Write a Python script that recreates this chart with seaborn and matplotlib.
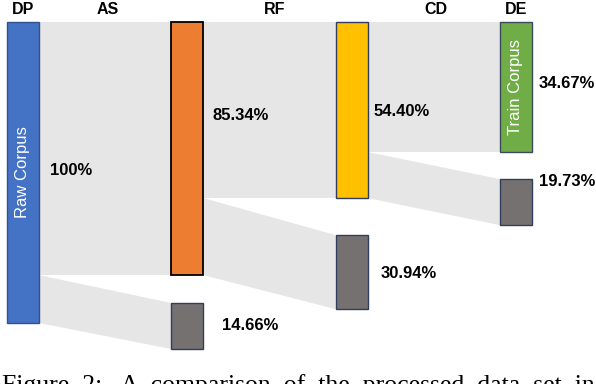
import numpy as np
import pandas as pd
import matplotlib
matplotlib.use("Agg")
import matplotlib.pyplot as plt
import seaborn as sns

# ---------------- data ----------------
stage_labels = ["DP", "AS", "RF", "CD", "DE"]
main_nodes = ["Raw Corpus", "After AS", "After RF", "Train Corpus"]
main_heights = [100.0, 84.1, 58.5, 43.2]          # drawn node heights (% of raw scale)
main_labels = ["100%", "85.34%", "54.40%", "34.67%"]
drop_heights = [15.3, 24.6, 15.3]                 # drawn heights of the removed parts
drop_labels = ["14.66%", "30.94%", "19.73%"]
caption = "Figure  2:   A  comparison  of  the  processed  data  set  in"

# ---------------- styles / layout ----------------
main_colors = ["#4472c4", "#ed7d31", "#ffc000", "#70ad47"]
main_edges = ["#2f528f", "#000000", "#2f3e5c", "#3a4a5c"]
drop_color = "#767171"
drop_edge = "#2f3e5c"
flow_color = "#e6e6e6"
bar_w = 0.195
drop_tops = [93.35, 70.8, 52.2]
main_label_dx = [11, 9, 6, 7]        # px right of node edge
drop_label_dx = [19, 13, 7]
main_label_dy = [-0.8, -11.0, 0.6, -1.3]
drop_label_dy = [-0.3, 0.3, -6.7]
header_cols = [0.0, 0.517, 1.533, 2.513, 3.0]

PX_PER_COL = 164.33
PX_PER_UNIT = 3.01

sns.set_theme(style="white")
plt.rcParams["font.family"] = ["Liberation Sans", "DejaVu Sans"]

fig = plt.figure(figsize=(5.96, 3.84), dpi=100)
ax = fig.add_axes([0, 0, 1, 1])

cols = np.arange(len(main_nodes))
df = pd.DataFrame({"col": cols, "height": main_heights, "node": main_nodes})
sns.barplot(data=df, x="col", y="height", hue="node",
            palette=dict(zip(main_nodes, main_colors)), hue_order=main_nodes,
            native_scale=True, width=bar_w, dodge=False, legend=False,
            saturation=1, linewidth=1.0, ax=ax, zorder=3)
for p in ax.patches:
    c = int(round(p.get_x() + p.get_width() / 2))
    if 0 <= c < len(main_edges):
        p.set_edgecolor(main_edges[c])
        p.set_linewidth(1.3 if c == 1 else 1.0)
        p.set_zorder(3)

drop_cols = cols[1:]
ax.bar(drop_cols, drop_heights, width=bar_w, bottom=drop_tops,
       color=drop_color, edgecolor=drop_edge, linewidth=1.0, zorder=3)

# flows
for i in range(len(main_nodes) - 1):
    x0 = cols[i] + bar_w / 2
    x1 = cols[i + 1] - bar_w / 2
    h_next = main_heights[i + 1]
    ax.fill([x0, x1, x1, x0], [0, 0, h_next, h_next], color=flow_color, lw=0, zorder=1)
    t0, t1 = drop_tops[i], drop_tops[i] + drop_heights[i]
    ax.fill([x0, x1, x1, x0], [h_next, t0, t1, main_heights[i]],
            color=flow_color, lw=0, zorder=1)

# text
ax.text(cols[0], main_heights[0] / 2, main_nodes[0], rotation=90, color="white",
        ha="center", va="center", fontsize=12, zorder=4)
ax.text(cols[3], main_heights[3] / 2, main_nodes[3], rotation=90, color="white",
        ha="center", va="center", fontsize=12, zorder=4)

for i, lab in enumerate(main_labels):
    x = cols[i] + bar_w / 2 + main_label_dx[i] / PX_PER_COL
    y = main_heights[i] / 2 + main_label_dy[i]
    ax.text(x, y, lab, ha="left", va="center", fontsize=12, fontweight="bold",
            color="black", zorder=4)
for i, lab in enumerate(drop_labels):
    x = drop_cols[i] + bar_w / 2 + drop_label_dx[i] / PX_PER_COL
    y = drop_tops[i] + drop_heights[i] / 2 + drop_label_dy[i]
    ax.text(x, y, lab, ha="left", va="center", fontsize=12, fontweight="bold",
            color="black", zorder=4)

for xc, lab in zip(header_cols, stage_labels):
    ax.text(xc, -12 / PX_PER_UNIT, lab, ha="center", va="center", fontsize=11.5,
            fontweight="bold", color="black")

ax.set_xlim(-23 / PX_PER_COL, (596 - 23) / PX_PER_COL)
ax.set_ylim((384 - 22) / PX_PER_UNIT, -22 / PX_PER_UNIT)
ax.axis("off")

fig.text(0.003, -8 / 384, caption, family=["Liberation Serif", "DejaVu Serif"],
         fontsize=18.5, va="baseline", ha="left", color="black")

fig.savefig("out.png", dpi=100, facecolor="white")
